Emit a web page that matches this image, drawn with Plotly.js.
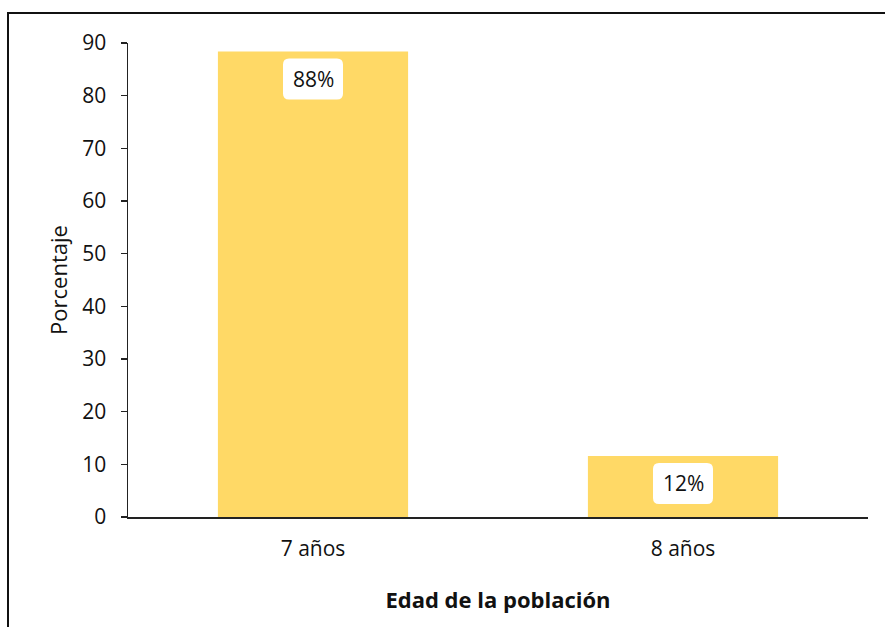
<!DOCTYPE html>
<html>
<head>
<meta charset="utf-8">
<script src="https://cdn.plot.ly/plotly-3.0.1.min.js"></script>
<style>
html,body{margin:0;padding:0;background:#fff;}
#wrap{position:relative;width:885px;height:627px;overflow:hidden;}
#chart{width:885px;height:627px;}
#frame{position:absolute;left:7px;top:12px;width:900px;height:700px;border:2px solid #111;pointer-events:none;box-sizing:border-box;}
</style>
</head>
<body>
<div id="wrap">
<div id="chart"></div>
<div id="frame"></div>
</div>
<script>
const categories = ['7 años', '8 años'];
const values = [88.4, 11.6];
const labels = ['88%', '12%'];
const yTicks = [0, 10, 20, 30, 40, 50, 60, 70, 80, 90];

const FONT = '"Open Sans", sans-serif';
const barColor = '#FFD966';

const trace = {
  type: 'bar',
  x: categories,
  y: values,
  marker: {color: barColor, line: {width: 0}},
  hoverinfo: 'none'
};

const boxPath = 'M -24,-7 L 24,-7 Q 30,-7 30,-13 L 30,-42 Q 30,-48 24,-48 L -24,-48 Q -30,-48 -30,-42 L -30,-13 Q -30,-7 -24,-7 Z';

const shapes = categories.map((c, i) => ({
  type: 'path',
  xref: 'x', yref: 'y',
  xsizemode: 'pixel', ysizemode: 'pixel',
  xanchor: c, yanchor: values[i],
  path: boxPath,
  fillcolor: '#ffffff',
  line: {width: 0},
  layer: 'above'
}));

const annotations = categories.map((c, i) => ({
  x: c, y: values[i],
  xref: 'x', yref: 'y',
  text: labels[i],
  showarrow: false,
  yshift: -27.5,
  font: {family: FONT, size: 21, color: '#111'}
}));

const layout = {
  width: 885, height: 627,
  margin: {l: 128, r: 17, t: 43, b: 110},
  paper_bgcolor: '#fff',
  plot_bgcolor: '#fff',
  bargap: 0.486,
  showlegend: false,
  font: {family: FONT, size: 21, color: '#111'},
  xaxis: {
    type: 'category',
    showline: true, linecolor: '#222', linewidth: 1.5,
    ticks: '', showgrid: false, zeroline: false,
    tickfont: {family: FONT, size: 21, color: '#111'},
    ticklabelstandoff: 12,
    title: {text: '<b>Edad de la población</b>', font: {family: FONT, size: 22, color: '#111'}, standoff: 32}
  },
  yaxis: {
    range: [0, 90],
    tickvals: yTicks,
    ticktext: yTicks.map(String),
    showline: true, linecolor: '#222', linewidth: 1.5,
    ticks: 'outside', ticklen: 6, tickcolor: '#222', tickwidth: 1.5,
    showgrid: false, zeroline: false,
    tickfont: {family: FONT, size: 21, color: '#111'},
    ticklabelstandoff: 10,
    title: {text: 'Porcentaje', font: {family: FONT, size: 22, color: '#111'}, standoff: 8}
  },
  shapes: shapes,
  annotations: annotations
};

Plotly.newPlot('chart', [trace], layout, {displayModeBar: false, staticPlot: true});
</script>
</body>
</html>
